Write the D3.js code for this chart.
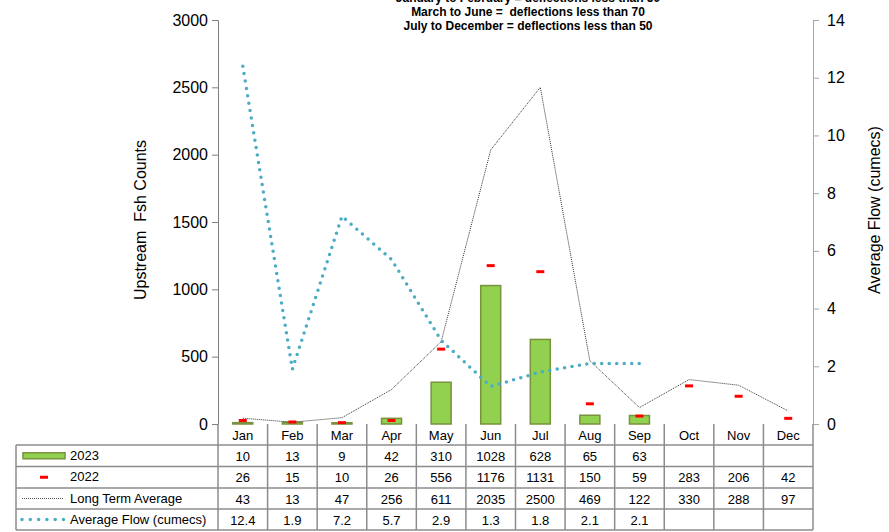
<html>
<head>
<script src="https://cdn.jsdelivr.net/npm/d3@7"></script>
<style>
    body { margin: 0; background: #fff; }
    text { font-family: "Liberation Sans", Arial, sans-serif; }
</style>
</head>
<body>
<script>
    var months = ['Jan', 'Feb', 'Mar', 'Apr', 'May', 'Jun', 'Jul', 'Aug', 'Sep', 'Oct', 'Nov', 'Dec'];
    var counts2023 = [10, 13, 9, 42, 310, 1028, 628, 65, 63, null, null, null];
    var counts2022 = [26, 15, 10, 26, 556, 1176, 1131, 150, 59, 283, 206, 42];
    var longTermAvg = [43, 13, 47, 256, 611, 2035, 2500, 469, 122, 330, 288, 97];
    var avgFlow = [12.4, 1.9, 7.2, 5.7, 2.9, 1.3, 1.8, 2.1, 2.1, null, null, null];
    var leftTicks = [0, 500, 1000, 1500, 2000, 2500, 3000];
    var rightTicks = [0, 2, 4, 6, 8, 10, 12, 14];
    var titleLines = ['January to February = deflections less than 50',
        'March to June =  deflections less than 70',
        'July to December = deflections less than 50'];

    var w = 889, h = 532;
    var plotL = 218, plotR = 813, plotT = 20, plotB = 424;

    var svg = d3.select('body').append('svg')
        .attr('width', w).attr('height', h);

    var x = d3.scaleBand().domain(months).range([plotL, plotR]);
    var y = d3.scaleLinear().domain([0, 3000]).range([plotB, plotT]);
    var y2 = d3.scaleLinear().domain([0, 14]).range([plotB, plotT]);

    // title
    svg.append('g').selectAll('text').data(titleLines).enter().append('text')
        .attr('x', 528)
        .attr('y', (d, i) => 2 + i * 14)
        .attr('text-anchor', 'middle')
        .attr('font-size', 12)
        .attr('font-weight', 'bold')
        .style('white-space', 'pre')
        .text(d => d);

    // left axis
    var yAxis = svg.append('g')
        .attr('transform', 'translate(' + plotL + ',0)')
        .call(d3.axisLeft(y).tickValues(leftTicks).tickFormat(d3.format('d')).tickSize(6).tickPadding(4));
    yAxis.select('.domain').attr('stroke', '#7f7f7f');
    yAxis.selectAll('.tick line').attr('stroke', '#7f7f7f');
    yAxis.selectAll('text').attr('font-size', 16).attr('font-family', 'Carlito, Lato, sans-serif').attr('fill', '#000');

    // right axis
    var y2Axis = svg.append('g')
        .attr('transform', 'translate(' + plotR + ',0)')
        .call(d3.axisRight(y2).tickValues(rightTicks).tickSize(6).tickPadding(8));
    y2Axis.select('.domain').attr('stroke', '#a6a6a6');
    y2Axis.selectAll('.tick line').attr('stroke', '#a6a6a6');
    y2Axis.selectAll('text').attr('font-size', 16).attr('font-family', 'Carlito, Lato, sans-serif').attr('fill', '#000');

    svg.append('text')
        .attr('transform', 'translate(146,220) rotate(-90)')
        .attr('text-anchor', 'middle')
        .attr('font-size', 16)
        .attr('font-family', 'Carlito, Lato, sans-serif')
        .style('white-space', 'pre')
        .text('Upstream  Fsh Counts');
    svg.append('text')
        .attr('transform', 'translate(880,210) rotate(-90)')
        .attr('text-anchor', 'middle')
        .attr('font-size', 16)
        .attr('font-family', 'Carlito, Lato, sans-serif')
        .text('Average Flow (cumecs)');

    // bars 2023
    var bw = 20;
    svg.append('g').selectAll('rect')
        .data(months.map((m, i) => ({ m: m, v: counts2023[i] })).filter(d => d.v != null))
        .enter().append('rect')
        .attr('x', d => x(d.m) + x.bandwidth() / 2 - bw / 2)
        .attr('y', d => y(d.v))
        .attr('width', bw)
        .attr('height', d => plotB - y(d.v))
        .attr('fill', '#92d050')
        .attr('stroke', '#77933c')
        .attr('stroke-width', 1.5);

    // long term average line
    var line = d3.line()
        .defined(d => d.v != null)
        .x(d => x(d.m) + x.bandwidth() / 2)
        .y(d => d.y);
    svg.append('path')
        .attr('d', line(months.map((m, i) => ({ m: m, v: longTermAvg[i], y: y(longTermAvg[i]) }))))
        .attr('fill', 'none')
        .attr('stroke', '#333')
        .attr('stroke-width', 1)
        .attr('stroke-dasharray', '1,1');

    // 2022 markers
    svg.append('g').selectAll('rect')
        .data(months.map((m, i) => ({ m: m, v: counts2022[i] })))
        .enter().append('rect')
        .attr('x', d => x(d.m) + x.bandwidth() / 2 - 4)
        .attr('y', d => y(d.v) - 1.5)
        .attr('width', 8)
        .attr('height', 3)
        .attr('fill', '#ff0000');

    // flow line
    svg.append('path')
        .attr('d', line(months.map((m, i) => ({ m: m, v: avgFlow[i], y: avgFlow[i] == null ? 0 : y2(avgFlow[i]) }))))
        .attr('fill', 'none')
        .attr('stroke', '#4bacc6')
        .attr('stroke-width', 3.5)
        .attr('stroke-linecap', 'round')
        .attr('stroke-dasharray', '0,7.5');

    // data table
    var rowTop = [424, 445, 466.5, 488, 509, 530];
    var tableLeft = 16;
    var grid = svg.append('g').attr('stroke', '#8c8c8c').attr('stroke-width', 1.5);
    rowTop.slice(1).forEach(yy => {
        grid.append('line').attr('x1', tableLeft).attr('x2', plotR).attr('y1', yy).attr('y2', yy);
    });
    months.forEach(m => {
        grid.append('line').attr('x1', x(m)).attr('x2', x(m)).attr('y1', plotB).attr('y2', rowTop[5]);
    });
    grid.append('line').attr('x1', plotR).attr('x2', plotR).attr('y1', plotB).attr('y2', rowTop[5]);
    grid.append('line').attr('x1', tableLeft).attr('x2', tableLeft).attr('y1', rowTop[1]).attr('y2', rowTop[5]);

    var tfont = 13;
    svg.append('g').selectAll('text').data(months).enter().append('text')
        .attr('x', d => x(d) + x.bandwidth() / 2)
        .attr('y', (rowTop[0] + rowTop[1]) / 2 + 5)
        .attr('text-anchor', 'middle')
        .attr('font-size', tfont)
        .text(d => d);

    var rows = [counts2023, counts2022, longTermAvg, avgFlow];
    var rowNames = ['2023', '2022', 'Long Term Average', 'Average Flow (cumecs)'];
    rows.forEach((vals, r) => {
        var cy = (rowTop[r + 1] + rowTop[r + 2]) / 2 + 5;
        svg.append('g').selectAll('text').data(vals).enter().append('text')
            .attr('x', (d, i) => x(months[i]) + x.bandwidth() / 2)
            .attr('y', cy)
            .attr('text-anchor', 'middle')
            .attr('font-size', tfont)
            .text(d => d == null ? '' : (r == 3 ? d3.format('.1f')(d) : d));
        svg.append('text')
            .attr('x', 70)
            .attr('y', cy - 1)
            .attr('font-size', tfont)
            .text(rowNames[r]);
    });

    // legend keys
    var ly = (r) => (rowTop[r + 1] + rowTop[r + 2]) / 2;
    svg.append('rect').attr('x', 23).attr('y', ly(0) - 3).attr('width', 42).attr('height', 6)
        .attr('fill', '#92d050').attr('stroke', '#77933c').attr('stroke-width', 1.5);
    svg.append('rect').attr('x', 40).attr('y', ly(1) - 1.5).attr('width', 8).attr('height', 3)
        .attr('fill', '#ff0000');
    svg.append('line').attr('x1', 22).attr('x2', 64).attr('y1', ly(2)).attr('y2', ly(2))
        .attr('stroke', '#555').attr('stroke-width', 1).attr('stroke-dasharray', '1,1');
    svg.append('line').attr('x1', 22).attr('x2', 64).attr('y1', ly(3)).attr('y2', ly(3))
        .attr('stroke', '#4bacc6').attr('stroke-width', 3.5).attr('stroke-linecap', 'round')
        .attr('stroke-dasharray', '0,8.3');
</script>
</body>
</html>
